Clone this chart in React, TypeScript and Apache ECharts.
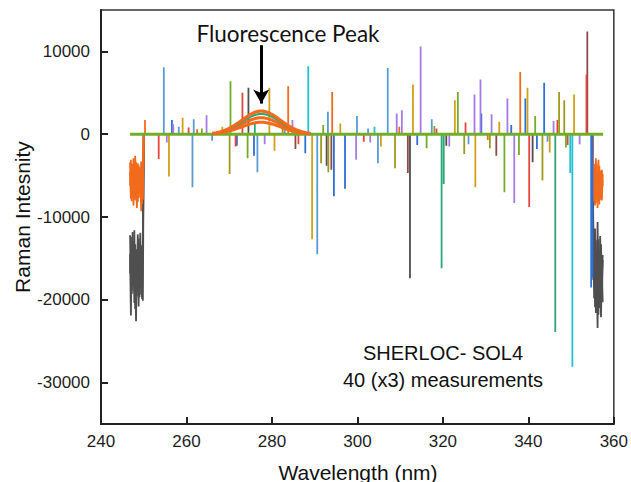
import React, { useEffect, useRef } from "react";
import * as echarts from "echarts";

// ---------- axis ticks ----------
const yTickValues = [-30000, -20000, -10000, 0, 10000];

// ---------- edge noise (detector edges) ----------
const leftNoiseWl = [246.8, 247.0, 247.2, 247.4, 247.6, 247.8, 248.0, 248.2, 248.4, 248.6, 248.8, 249.0, 249.2, 249.4, 249.6, 249.8];
const grayLeftA = [-14500, -21900, -13800, -17600, -12900, -20400, -15200, -22600, -14100, -18800, -12600, -19700, -15800, -17300, -13400, -20100];
const grayLeftB = [-16800, -12400, -19300, -14700, -18200, -11600, -21100, -13900, -17100, -15400, -20800, -13100, -18600, -14900, -19900, -12800];
const grayLeftC = [-12200, -16300, -18900, -11800, -16100, -19200, -13300, -17800, -19600, -12100, -16700, -15100, -11900, -19400, -16200, -14300];
const orangeLeftA = [-6200, -3100, -7400, -4300, -8600, -5100, -2600, -6900, -4800, -8200, -3700, -7100, -5500, -9300, -4100, -6600];
const orangeLeftB = [-4600, -7800, -3600, -6500, -2900, -7900, -5700, -3400, -8900, -5200, -6800, -4000, -7600, -3300, -8400, -5900];
const orangeLeftC = [-3400, -5600, -8100, -3900, -6400, -7300, -4200, -8000, -6000, -3500, -7700, -5800, -4500, -6800, -5300, -7900];

const rightNoiseWl = [355.2, 355.4, 355.6, 355.8, 356.0, 356.2, 356.4, 356.6, 356.8, 357.0, 357.2, 357.4];
const grayRightA = [-13200, -19800, -11400, -21600, -15300, -23400, -12700, -18400, -14800, -22100, -16500, -20300];
const grayRightB = [-17600, -12100, -20900, -14200, -18900, -10600, -21800, -15900, -19200, -13300, -17800, -14600];
const grayRightC = [-11000, -15600, -18200, -12800, -20200, -16800, -14100, -21000, -12300, -17400, -19900, -15200];
const orangeRightA = [-5400, -8200, -3600, -7500, -4700, -8900, -3100, -6800, -5200, -7900, -4300, -6300];
const orangeRightB = [-7200, -4100, -8600, -2900, -6500, -5000, -8100, -3800, -7300, -4600, -6100, -5600];
const orangeRightC = [-3900, -6300, -5100, -8300, -3500, -7000, -5800, -8500, -4400, -6700, -8000, -4800];

// ---------- fluorescence hump ----------
const fluorWl = [266, 267, 268, 269, 270, 271, 272, 273, 274, 275, 276, 277, 278, 279, 280, 281, 282, 283, 284, 285, 286, 287, 288, 289];
const fluorHigh = [100, 180, 300, 470, 700, 990, 1330, 1700, 2070, 2400, 2650, 2790, 2780, 2640, 2390, 2060, 1690, 1320, 980, 690, 460, 290, 170, 90];
const fluorTeal = [90, 160, 265, 410, 610, 865, 1160, 1490, 1810, 2100, 2320, 2440, 2430, 2310, 2090, 1800, 1480, 1155, 860, 605, 400, 255, 150, 80];
const fluorMid = [70, 130, 215, 335, 500, 705, 945, 1210, 1475, 1710, 1885, 1985, 1980, 1880, 1700, 1465, 1200, 940, 700, 490, 330, 205, 120, 65];
const fluorLow = [50, 95, 160, 250, 370, 520, 695, 885, 1075, 1245, 1370, 1445, 1440, 1365, 1240, 1070, 880, 690, 510, 360, 240, 150, 85, 45];

// ---------- baseline ----------
const baselineWl = [246.8, 357.5];

// ---------- cosmic-ray spikes: [wavelength, intensity] ----------
const lightBlueSpikes: [number, number][] = [
  [254.7, 8100], [258.2, 900], [261.4, -6400], [261.7, 1800], [266.0, -800], [276.6, -4600], [283.0, 1200],
  [290.6, -14500], [293.1, 2700], [299.9, 2200], [302.5, 700], [304.8, -3500], [307.1, 8000], [317.4, 1800],
  [326.0, -1200], [344.5, -900],
];
const blueSpikes: [number, number][] = [
  [256.6, 1700], [271.8, -1400], [275.8, -2600], [287.8, -2300], [294.5, -7500], [297.1, -6600], [314.0, -1300],
  [329.0, 2500], [336.0, 1100], [339.3, 4300], [342.0, -1800], [343.7, 6200], [354.7, -18500], [355.0, -17300],
];
const orangeSpikes: [number, number][] = [
  [250.3, 1700], [262.5, 600], [283.8, 5800], [294.1, 5100], [309.8, 900], [330.5, -700], [338.1, 7500],
];
const redSpikes: [number, number][] = [
  [253.5, -3000], [260.5, 800], [271.5, -1500], [273.1, 5000], [286.2, -1200], [301.5, -900], [318.5, 700],
  [325.3, 1400], [340.2, -8800], [346.8, 1700], [349.2, -1300], [353.6, 7200],
];
const goldSpikes: [number, number][] = [
  [255.9, -5100], [259.1, 2000], [268.4, 900], [279.4, 5600], [280.6, -2000], [289.4, -12700], [296.0, 1300],
  [305.5, -1500], [313.0, 6000], [322.8, 4100], [327.6, -6400], [333.2, 1500], [339.8, 5600], [345.0, -2200],
  [350.7, 4800],
];
const purpleSpikes: [number, number][] = [
  [255.4, -1000], [256.9, 1200], [264.7, 2300], [278.3, -1200], [284.8, 1700], [299.7, -3100], [303.0, -1000],
  [309.2, 2500], [310.4, 2900], [314.8, 10600], [321.5, -1500], [327.4, 4800], [328.8, 6600], [331.4, 2400],
  [335.1, 4300], [336.7, -8300], [345.9, 1600], [352.0, -1200],
];
const greenSpikes: [number, number][] = [
  [263.6, 700], [270.3, 6400], [274.3, -2900], [292.0, 1100], [316.2, -1700], [323.5, 5100], [334.4, -7000],
  [337.8, -2500], [341.6, 2200], [348.8, -1600],
];
const oliveSpikes: [number, number][] = [
  [270.1, -4800], [282.5, 1400], [291.5, -3500], [293.2, -4600], [308.8, -4100], [318.0, 1000], [325.0, -2400],
  [331.0, -1700], [343.3, -5600], [347.2, 5100], [348.4, 4100],
];
const darkGraySpikes: [number, number][] = [
  [274.5, 5600], [292.8, -3800], [312.3, -17400], [320.8, -1400], [341.0, -3400],
];
const brownSpikes: [number, number][] = [
  [285.5, -1800], [293.9, -4300], [311.8, -4700], [332.5, -2600], [353.8, 12400],
];
const cyanSpikes: [number, number][] = [
  [288.5, 8200], [304.0, 900], [349.8, -4700], [350.3, -28100],
];
const tealSpikes: [number, number][] = [
  [276.0, 1500], [319.7, -16200], [320.2, -6000], [346.3, -23900],
];

const C = {
  lightBlue: "#5b9bd5",
  blue: "#2f6fd6",
  orange: "#f26a1b",
  red: "#e3463f",
  gold: "#d1a11c",
  purple: "#a47ce3",
  green: "#72ad2a",
  olive: "#9e9a1f",
  darkGray: "#4f4f4f",
  brown: "#8c4a4a",
  cyan: "#22c3cf",
  teal: "#2aa876",
};

const ARIAL = "'Liberation Sans', Arial, sans-serif";

function spikeSeries(color: string, spikes: [number, number][]) {
  const sorted = [...spikes].sort((a, b) => a[0] - b[0]);
  return {
    type: "line",
    data: sorted.flatMap(([w, v]) => [[w, 0], [w, v], [w, 0]]),
    symbol: "none",
    silent: true,
    lineStyle: { color, width: 1.8 },
    z: 3,
  };
}

function noiseSeries(color: string, wl: number[], vals: number[], start: number[] | null, end: number[] | null, width = 1.8) {
  const pts = wl.map((w, i) => [w, vals[i]]);
  const data = [...(start ? [start] : []), ...pts, ...(end ? [end] : [])];
  return {
    type: "line",
    data,
    symbol: "none",
    silent: true,
    lineStyle: { color, width },
    z: 2,
  };
}

function curveSeries(color: string, vals: number[], width: number) {
  return {
    type: "line",
    data: fluorWl.map((w, i) => [w, vals[i]]),
    symbol: "none",
    silent: true,
    lineStyle: { color, width },
    z: 5,
  };
}

export default function App() {
  const ref = useRef<HTMLDivElement>(null);
  useEffect(() => {
    const chart = echarts.init(ref.current!, null, { renderer: "svg" });
    const axisColor = "#222";
    const option: any = {
      animation: false,
      backgroundColor: "#ffffff",
      grid: {
        left: 101,
        right: 16,
        top: 10,
        bottom: 58,
        show: true,
        borderColor: "#333",
        borderWidth: 1.5,
        backgroundColor: "transparent",
      },
      xAxis: {
        type: "value",
        min: 240,
        max: 360,
        interval: 20,
        axisLine: { show: true, onZero: false, lineStyle: { color: axisColor, width: 2 } },
        axisTick: { show: true, inside: true, length: 7, lineStyle: { color: axisColor, width: 2 } },
        axisLabel: {
          fontSize: 17,
          color: "#1e1e1e",
          margin: 9,
          fontFamily: ARIAL,
          formatter: (v: number) => String(v),
        },
        splitLine: { show: false },
      },
      yAxis: {
        type: "value",
        min: -35000,
        max: 15000,
        axisLine: { show: true, onZero: false, lineStyle: { color: axisColor, width: 2 } },
        axisTick: {
          show: true,
          inside: true,
          length: 7,
          customValues: yTickValues,
          lineStyle: { color: axisColor, width: 2 },
        },
        axisLabel: {
          customValues: yTickValues,
          fontSize: 17,
          color: "#1e1e1e",
          margin: 11,
          fontFamily: ARIAL,
          formatter: (v: number) => String(v),
        },
        splitLine: { show: false },
      },
      series: [
        noiseSeries(C.darkGray, leftNoiseWl, grayLeftA, null, [250.0, 0]),
        noiseSeries(C.darkGray, leftNoiseWl, grayLeftB, null, [250.0, 0]),
        noiseSeries(C.darkGray, leftNoiseWl, grayLeftC, null, [250.0, 0]),
        noiseSeries(C.darkGray, rightNoiseWl, grayRightA, [355.0, 0], null),
        noiseSeries(C.darkGray, rightNoiseWl, grayRightB, [355.0, 0], null),
        noiseSeries(C.darkGray, rightNoiseWl, grayRightC, [355.0, 0], null),
        spikeSeries(C.darkGray, darkGraySpikes),
        spikeSeries(C.brown, brownSpikes),
        spikeSeries(C.lightBlue, lightBlueSpikes),
        spikeSeries(C.blue, blueSpikes),
        spikeSeries(C.gold, goldSpikes),
        spikeSeries(C.purple, purpleSpikes),
        spikeSeries(C.red, redSpikes),
        spikeSeries(C.olive, oliveSpikes),
        spikeSeries(C.cyan, cyanSpikes),
        spikeSeries(C.teal, tealSpikes),
        spikeSeries(C.orange, orangeSpikes),
        spikeSeries(C.green, greenSpikes),
        noiseSeries(C.orange, leftNoiseWl, orangeLeftA, null, [250.0, 0]),
        noiseSeries(C.orange, leftNoiseWl, orangeLeftB, null, [250.0, 0]),
        noiseSeries(C.orange, leftNoiseWl, orangeLeftC, null, [250.0, 0]),
        noiseSeries(C.orange, rightNoiseWl, orangeRightA, [355.0, 0], null),
        noiseSeries(C.orange, rightNoiseWl, orangeRightB, [355.0, 0], null),
        noiseSeries(C.orange, rightNoiseWl, orangeRightC, [355.0, 0], null),
        {
          type: "line",
          data: baselineWl.map((w) => [w, 0]),
          symbol: "none",
          silent: true,
          lineStyle: { color: C.green, width: 3 },
          z: 4,
        },
        curveSeries(C.orange, fluorLow, 3),
        curveSeries(C.orange, fluorMid, 3),
        curveSeries(C.teal, fluorTeal, 2),
        {
          ...curveSeries(C.orange, fluorHigh, 3.2),
          markLine: {
            silent: true,
            symbol: ["none", "arrow"],
            symbolSize: [12, 14],
            label: { show: false },
            lineStyle: { color: "#000", width: 3, type: "solid" },
            data: [[{ coord: [277.5, 10750] }, { coord: [277.5, 3700] }]],
          },
        },
      ],
      graphic: [
        {
          type: "text",
          x: 288,
          y: 33,
          style: {
            text: "Fluorescence Peak",
            fontSize: 22.5,
            fontFamily: "Lato, 'Open Sans', sans-serif",
            fill: "#111",
            align: "center",
            verticalAlign: "middle",
          },
        },
        {
          type: "text",
          x: 22,
          y: 217,
          rotation: Math.PI / 2,
          style: {
            text: "Raman Intesnity",
            fontSize: 21,
            fontFamily: ARIAL,
            fill: "#111",
            align: "center",
            verticalAlign: "middle",
          },
        },
        {
          type: "text",
          x: 358,
          y: 472,
          style: {
            text: "Wavelength (nm)",
            fontSize: 21,
            fontFamily: ARIAL,
            fill: "#111",
            align: "center",
            verticalAlign: "middle",
          },
        },
        {
          type: "text",
          x: 443,
          y: 353,
          style: {
            text: "SHERLOC- SOL4",
            fontSize: 20,
            fontFamily: ARIAL,
            fill: "#111",
            align: "center",
            verticalAlign: "middle",
          },
        },
        {
          type: "text",
          x: 443,
          y: 380,
          style: {
            text: "40 (x3) measurements",
            fontSize: 20,
            fontFamily: ARIAL,
            fill: "#111",
            align: "center",
            verticalAlign: "middle",
          },
        },
      ],
    };
    chart.setOption(option);
    return () => chart.dispose();
  }, []);
  return (
    <div
      ref={ref}
      style={{ position: "fixed", left: 0, top: 0, width: 631, height: 482, background: "#fff" }}
    />
  );
}
